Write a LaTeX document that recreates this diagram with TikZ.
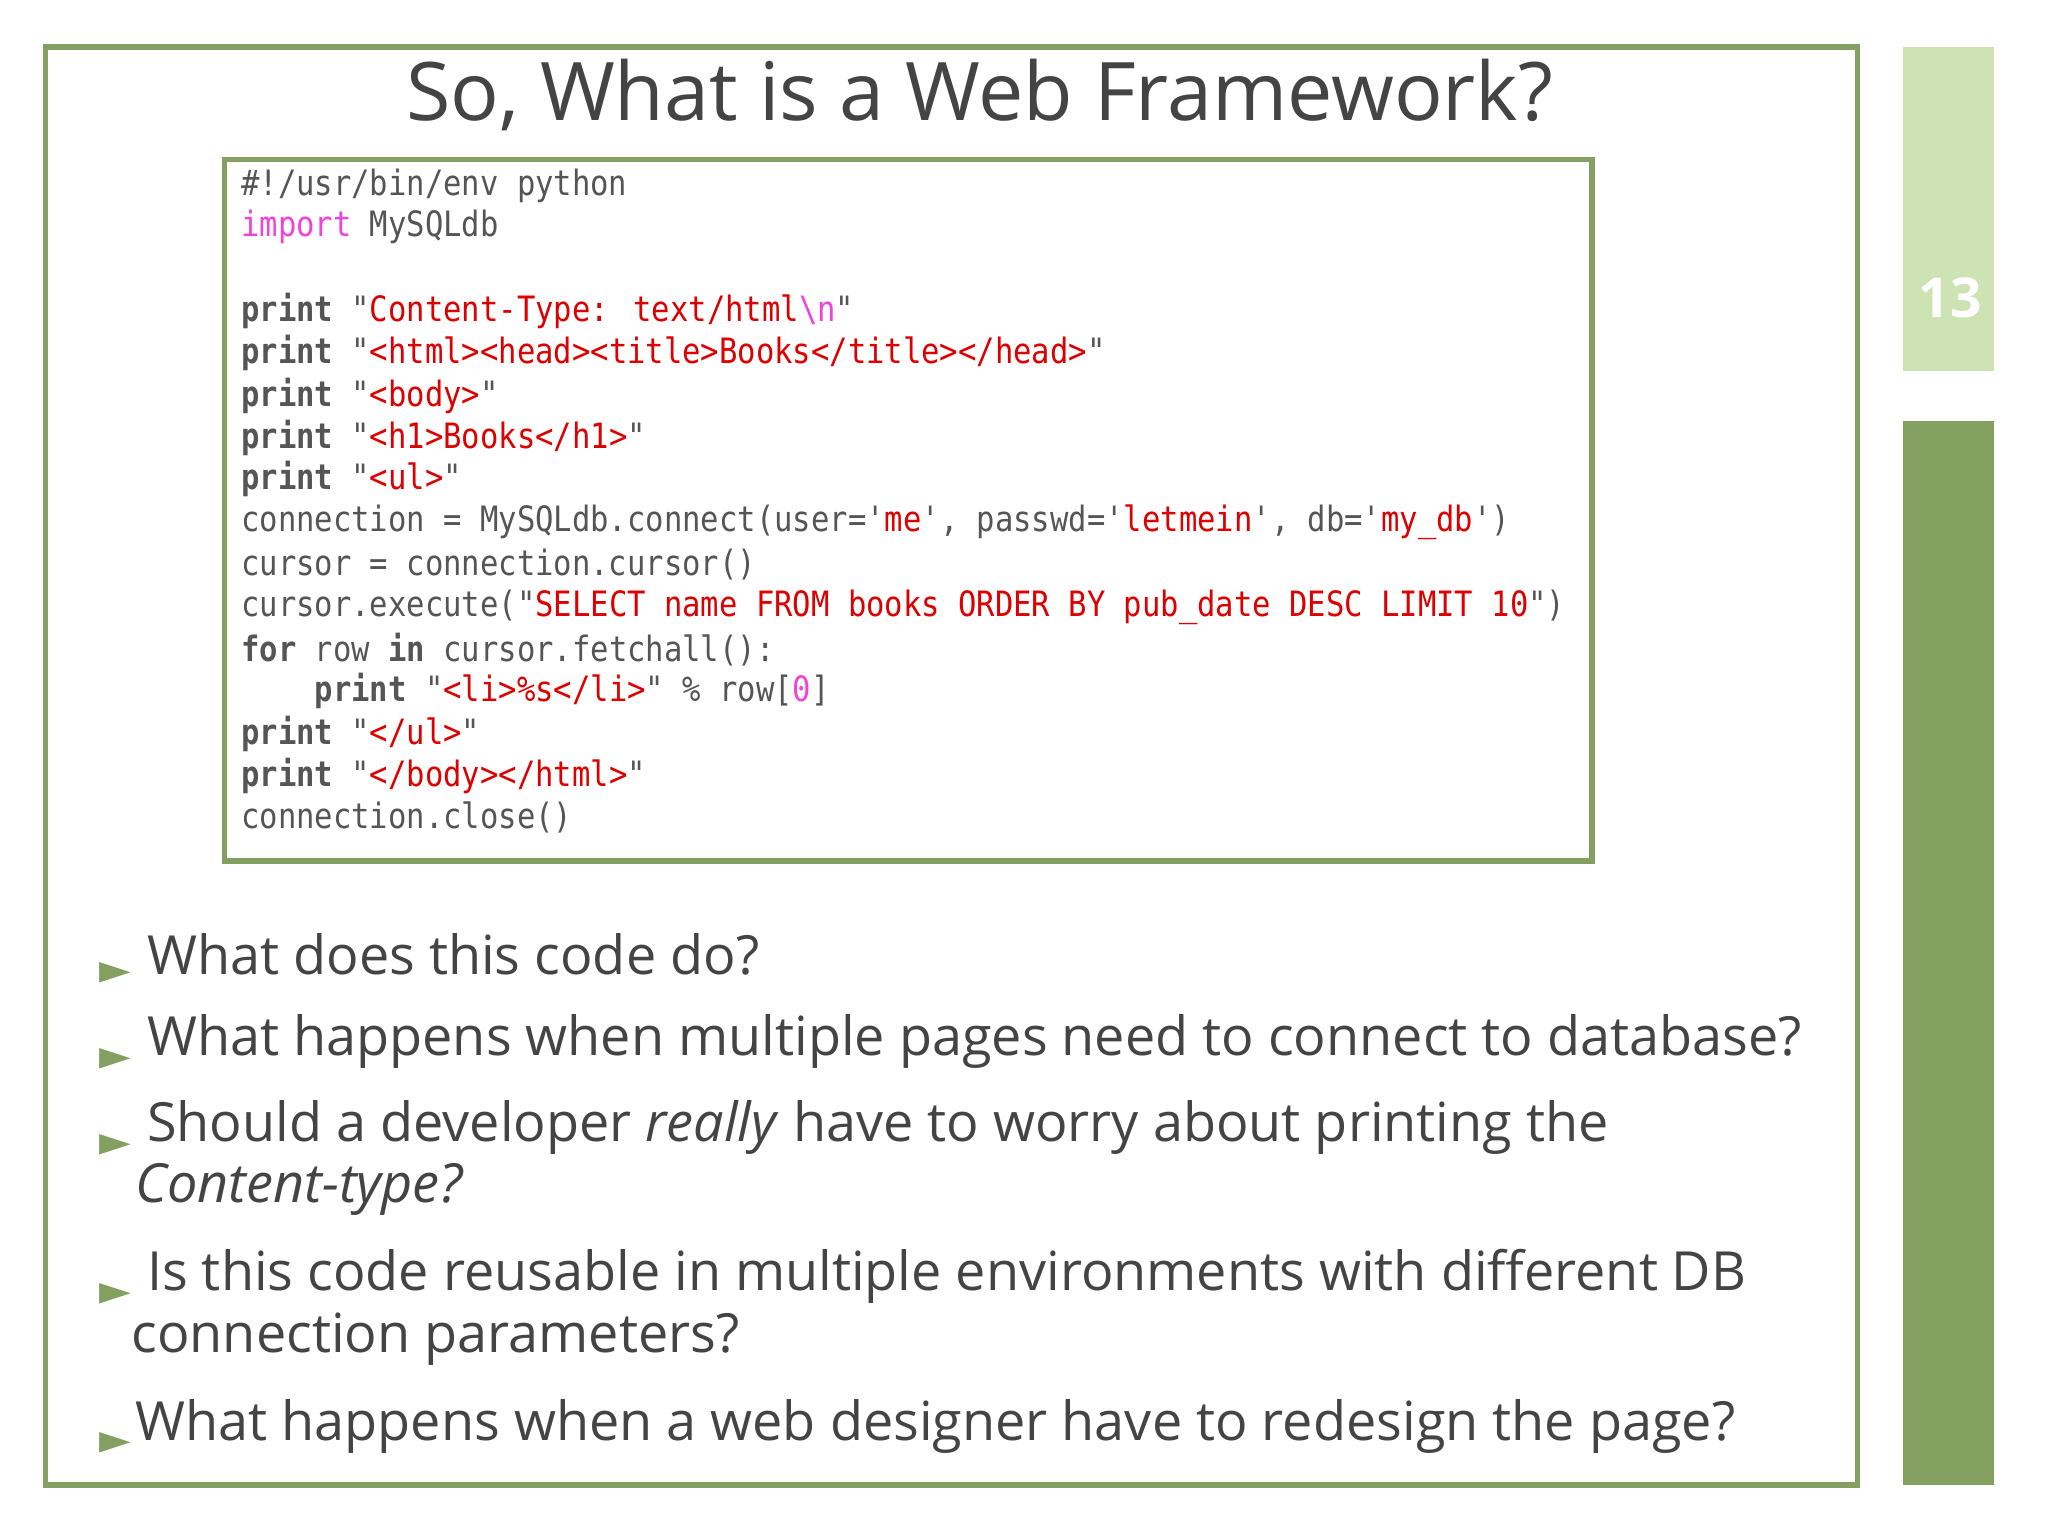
\documentclass[tikz,border=0pt]{standalone}
\usepackage{fontspec}
\setmainfont{Open Sans}
\newfontfamily\codef[FakeStretch=0.875]{DejaVu Sans Mono}
\newfontfamily\symf{DejaVu Sans}
\definecolor{frameg}{HTML}{84A060}
\definecolor{lightg}{HTML}{CDE3B4}
\definecolor{txt}{HTML}{444444}
\definecolor{cred}{HTML}{DD0000}
\definecolor{cmag}{HTML}{EE44DD}
\definecolor{cgray}{HTML}{555555}
\newcommand{\Sx}[1]{\textcolor{cred}{#1}}
\newcommand{\Kx}[1]{\textbf{#1}}
\tikzset{codeline/.style={anchor=west,inner sep=0pt,font=\fontsize{7.6}{9}\codef,text=cgray},
 bul/.style={anchor=west,inner sep=0pt,font=\fontsize{11.75}{14}\selectfont,text=txt},
 tri/.style={anchor=center,inner sep=0pt,font=\fontsize{9}{10}\symf,text=frameg}}
\begin{document}
\begin{tikzpicture}[x=0.01cm,y=-0.01cm]
\useasboundingbox (0,0) rectangle (1568,1175);
\fill[white] (0,0) rectangle (1568,1175);
\draw[frameg,line width=1.2pt] (35,36) rectangle (1422,1137);
\fill[lightg] (1457,36) rectangle (1527,284);
\fill[frameg] (1457,322) rectangle (1527,1137);
\node[text=white,font=\fontsize{12}{14}\selectfont\bfseries] (num) at (1493,228) {13};
\node[text=txt,font=\fontsize{17.6}{22}\selectfont] (title) at (750,73) {So, What is a Web Framework?};
\draw[frameg,line width=1.2pt] (172,122) rectangle (1219,659);
\node[codeline] (c1) at (184,142) {\#!/usr/bin/env python};
\node[codeline] (c2) at (184,174) {\textcolor{cmag}{import} MySQLdb};
\node[codeline] (c3) at (184,238) {\Kx{print} "\Sx{Content-Type: text/html}\textcolor{cmag}{\textbackslash n}"};
\node[codeline] (c4) at (184,270) {\Kx{print} "\Sx{<html><head><title>Books</title></head>}"};
\node[codeline] (c5) at (184,303) {\Kx{print} "\Sx{<body>}"};
\node[codeline] (c6) at (184,335) {\Kx{print} "\Sx{<h1>Books</h1>}"};
\node[codeline] (c7) at (184,367) {\Kx{print} "\Sx{<ul>}"};
\node[codeline] (c8) at (184,400) {connection = MySQLdb.connect(user='\Sx{me}', passwd='\Sx{letmein}', db='\Sx{my\_db}')};
\node[codeline] (c9) at (184,432) {cursor = connection.cursor()};
\node[codeline] (c10) at (184,465) {cursor.execute("\Sx{SELECT name FROM books ORDER BY pub\_date DESC LIMIT 10}")};
\node[codeline] (c11) at (184,497) {\Kx{for} row \Kx{in} cursor.fetchall():};
\node[codeline] (c12) at (184,529) {\ \ \ \ \Kx{print} "\Sx{<li>\%s</li>}" \% row[\textcolor{cmag}{0}]};
\node[codeline] (c13) at (184,562) {\Kx{print} "\Sx{</ul>}"};
\node[codeline] (c14) at (184,594) {\Kx{print} "\Sx{</body></html>}"};
\node[codeline] (c15) at (184,626) {connection.close()};
\foreach \y in {745,811,877,991,1105} \node[tri] at (88,\y) {►};
\node[bul] (b1) at (112,731) {What does this code do?};
\node[bul] (b2) at (112,797) {What happens when multiple pages need to connect to database?};
\node[bul] (b3) at (112,863) {Should a developer \textit{really} have to worry about printing the};
\node[bul] (b3b) at (103,911) {\textit{Content-type?}};
\node[bul] (b4) at (112,977) {Is this code reusable in multiple environments with different DB};
\node[bul] (b4b) at (100,1025) {connection parameters?};
\node[bul] (b5) at (103,1092) {What happens when a web designer have to redesign the page?};
\end{tikzpicture}
\end{document}
